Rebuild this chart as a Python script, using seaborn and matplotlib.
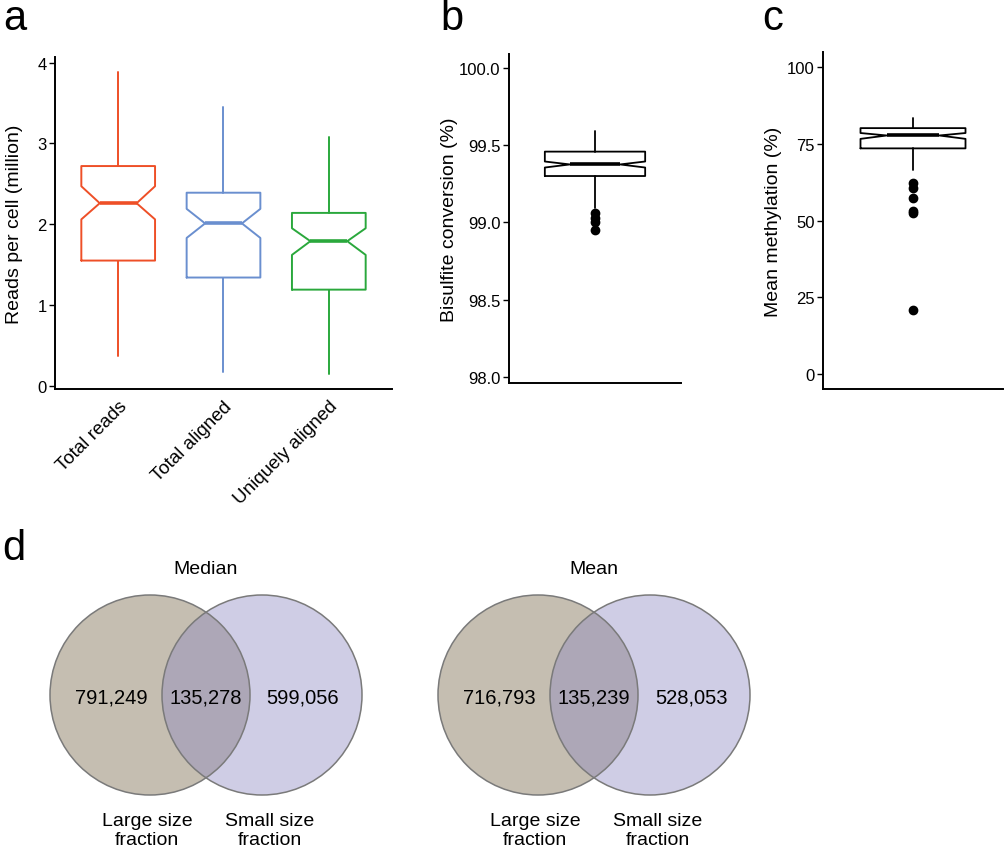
import numpy as np
import matplotlib
matplotlib.use("Agg")
import matplotlib.pyplot as plt
from matplotlib.patches import Circle
from matplotlib.ticker import FormatStrFormatter
import seaborn as sns

# ---------------------------
# Datos
# ---------------------------
categorias = ["Total reads", "Total aligned", "Uniquely aligned"]
colores = ["#EE4F27", "#6A8FCF", "#2AA83C"]
a_whislo = [0.37, 0.17, 0.15]
a_q1 = [1.55, 1.34, 1.19]
a_cilo = [2.06, 1.83, 1.62]
a_med = [2.26, 2.01, 1.79]
a_cihi = [2.47, 2.19, 1.95]
a_q3 = [2.72, 2.39, 2.14]
a_whishi = [3.88, 3.45, 3.08]

b_stats = dict(whislo=99.09, q1=99.30, cilo=99.355, med=99.375,
               cihi=99.394, q3=99.458, whishi=99.59)
b_outliers = [99.06, 99.03, 99.00, 98.95]

c_stats = dict(whislo=66.3, q1=73.5, cilo=76.6, med=77.7,
               cihi=78.5, q3=80.1, whishi=83.4)
c_outliers = [62.2, 60.6, 57.3, 53.2, 52.5, 20.9]

venn_titulos = ["Median", "Mean"]
venn_izq = ["791,249", "716,793"]
venn_comun = ["135,278", "135,239"]
venn_der = ["599,056", "528,053"]
venn_etiquetas = ["Large size\nfraction", "Small size\nfraction"]

sns.set_style("ticks")
plt.rcParams['font.family'] = ['Liberation Sans', 'DejaVu Sans']
plt.rcParams['axes.linewidth'] = 1.4
plt.rcParams['text.color'] = 'black'
plt.rcParams['axes.labelcolor'] = 'black'
plt.rcParams['xtick.color'] = 'black'
plt.rcParams['ytick.color'] = 'black'

W, H = 1008, 854
fig = plt.figure(figsize=(W / 100, H / 100), dpi=100)


def add_ax(left, right, top, bottom):
    return fig.add_axes([left / W, 1 - bottom / H, (right - left) / W, (bottom - top) / H])


def estilo(ax):
    sns.despine(ax=ax)
    ax.tick_params(axis='y', length=4, width=1, labelsize=12, colors='black', pad=2)
    ax.tick_params(axis='x', length=0)
    for s in ax.spines.values():
        s.set_color('black')


# ---------------------------
# Panel a
# ---------------------------
ax_a = add_ax(55, 392, 58, 390)
stats_a = []
for i, cat in enumerate(categorias):
    stats_a.append(dict(label=cat, whislo=a_whislo[i], q1=a_q1[i], cilo=a_cilo[i],
                        med=a_med[i], cihi=a_cihi[i], q3=a_q3[i],
                        whishi=a_whishi[i], fliers=[]))
bp = ax_a.bxp(stats_a, positions=[1, 2, 3], widths=0.7, shownotches=True,
              showcaps=False, patch_artist=False)
for i, col in enumerate(colores):
    bp['boxes'][i].set(color=col, linewidth=1.4)
    bp['medians'][i].set(color=col, linewidth=2.6)
    for w in bp['whiskers'][2 * i:2 * i + 2]:
        w.set(color=col, linewidth=1.4)
ax_a.set_xlim(0.4, 3.6)
ax_a.set_ylim(-0.04, 4.07)
ax_a.set_yticks([0, 1, 2, 3, 4])
ax_a.set_xticks([1, 2, 3])
ax_a.set_xticklabels(categorias, rotation=45, ha='right', rotation_mode='anchor', fontsize=13.5)
ax_a.tick_params(axis='x', pad=6)
ax_a.set_ylabel("Reads per cell (million)", fontsize=14)
ax_a.yaxis.set_label_coords(-0.095, 0.5)
estilo(ax_a)

# ---------------------------
# Panel b
# ---------------------------
ax_b = add_ax(509, 681, 55, 384)
bp = ax_b.bxp([dict(b_stats, fliers=b_outliers)], positions=[1], widths=0.7,
              shownotches=True, showcaps=False,
              flierprops=dict(marker='o', markerfacecolor='black', markeredgecolor='black', markersize=6),
              boxprops=dict(color='black', linewidth=1.3),
              whiskerprops=dict(color='black', linewidth=1.3),
              medianprops=dict(color='black', linewidth=2.6))
ax_b.set_xlim(0.4, 1.6)
ax_b.set_ylim(97.96, 100.09)
ax_b.set_yticks([98.0, 98.5, 99.0, 99.5, 100.0])
ax_b.yaxis.set_major_formatter(FormatStrFormatter('%.1f'))
ax_b.set_xticks([])
ax_b.set_ylabel("Bisulfite conversion (%)", fontsize=14)
ax_b.yaxis.set_label_coords(-0.297, 0.5)
estilo(ax_b)

# ---------------------------
# Panel c
# ---------------------------
ax_c = add_ax(823, 1003, 53, 390)
bp = ax_c.bxp([dict(c_stats, fliers=c_outliers)], positions=[1], widths=0.7,
              shownotches=True, showcaps=False,
              flierprops=dict(marker='o', markerfacecolor='black', markeredgecolor='black', markersize=6),
              boxprops=dict(color='black', linewidth=1.3),
              whiskerprops=dict(color='black', linewidth=1.3),
              medianprops=dict(color='black', linewidth=2.6))
ax_c.set_xlim(0.4, 1.6)
ax_c.set_ylim(-4.9, 104.9)
ax_c.set_yticks([0, 25, 50, 75, 100])
ax_c.set_xticks([])
ax_c.set_ylabel("Mean methylation (%)", fontsize=14)
ax_c.yaxis.set_label_coords(-0.229, 0.5)
estilo(ax_c)

# ---------------------------
# Panel d (Venn)
# ---------------------------
ax_d = fig.add_axes([0, 0, 1, 330 / H])
ax_d.set_xlim(0, W)
ax_d.set_ylim(H, H - 330)
ax_d.axis('off')

centros = [206, 594]
sep, radio, cy = 56, 100, 696
for k, cx in enumerate(centros):
    izq = Circle((cx - sep, cy), radio, facecolor='#C5BEB1', edgecolor='none')
    der = Circle((cx + sep, cy), radio, facecolor=(140 / 255, 135 / 255, 194 / 255, 0.41), edgecolor='none')
    ax_d.add_patch(izq)
    ax_d.add_patch(der)
    for x0 in (cx - sep, cx + sep):
        ax_d.add_patch(Circle((x0, cy), radio, facecolor='none', edgecolor='#7A7A7A', linewidth=1.1))
    ax_d.text(cx, 570, venn_titulos[k], ha='center', va='center', fontsize=14)
    ax_d.text(cx - 95, 698, venn_izq[k], ha='center', va='center', fontsize=14.5)
    ax_d.text(cx, 698, venn_comun[k], ha='center', va='center', fontsize=14.5)
    ax_d.text(cx + 97, 698, venn_der[k], ha='center', va='center', fontsize=14.5)
    ax_d.text(cx - 59, 831, venn_etiquetas[0], ha='center', va='center', fontsize=14, linespacing=1.1)
    ax_d.text(cx + 64, 831, venn_etiquetas[1], ha='center', va='center', fontsize=14, linespacing=1.1)

# Letras de panel
for letra, x, y in [("a", 3, 30), ("b", 440, 30), ("c", 762, 30), ("d", 2, 560)]:
    fig.text(x / W, 1 - y / H, letra, fontsize=30, ha='left', va='baseline')

fig.savefig("out.png", dpi=100)
